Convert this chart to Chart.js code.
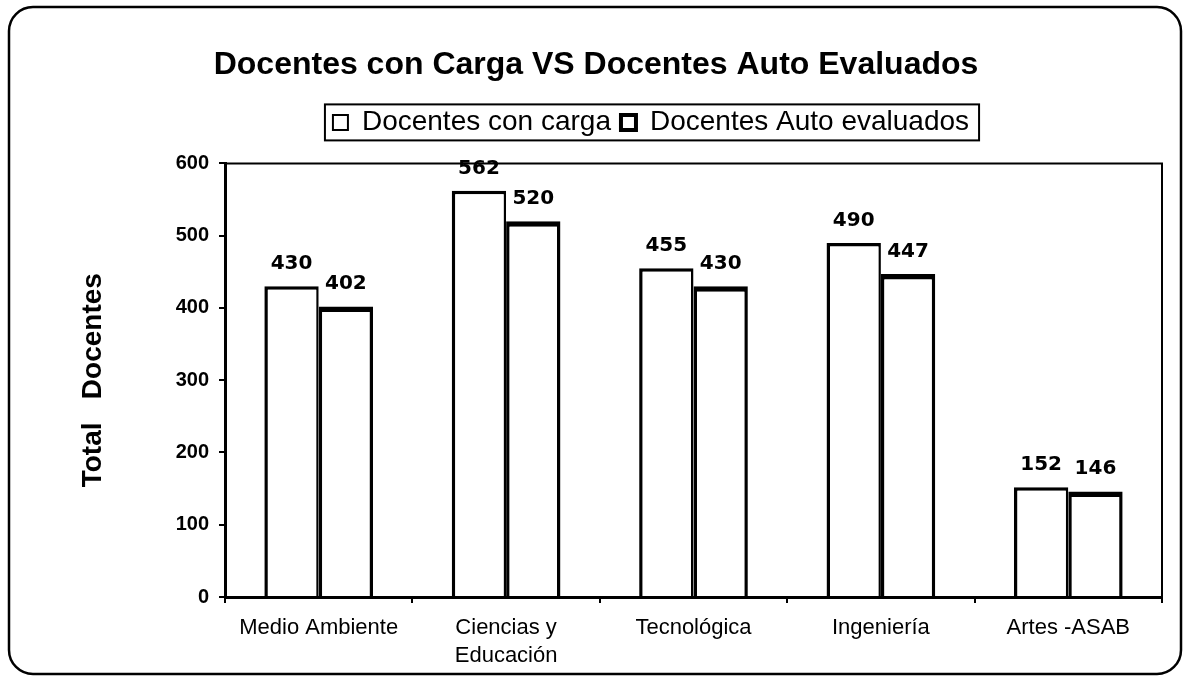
<!DOCTYPE html>
<html>
<head>
<meta charset="utf-8">
<script src="https://cdn.jsdelivr.net/npm/chart.js@4.4.1/dist/chart.umd.min.js"></script>
<style>
  html, body { margin: 0; padding: 0; background: #fff; }
  #wrap { width: 1184px; height: 677px; position: relative; }
</style>
</head>
<body>
<div id="wrap"><canvas id="chart"></canvas></div>
<script>
(function () {
    'use strict';

    // ====== Data ======
    const categories = ['Medio Ambiente', ['Ciencias y', 'Educación'], 'Tecnológica', 'Ingeniería', 'Artes -ASAB'];
    const seriesNames = ['Docentes con carga', 'Docentes Auto evaluados'];
    const conCarga = [430, 562, 455, 490, 152];
    const autoEvaluados = [402, 520, 430, 447, 146];
    const yMin = 0, yMax = 600, yStep = 100;

    const SANS = '"Liberation Sans", Arial, sans-serif';
    const LEGEND_SHIFT = 35;  // legend sits right of centre in the original
    const TITLE_SHIFT = -20;  // title sits a bit left of the plot centre
    Chart.defaults.font.family = SANS;
    Chart.defaults.color = '#000';

    // outer rounded frame + plot frame + legend box
    const framePlugin = {
        id: 'frame',
        beforeDraw(chart) {
            const c = chart.ctx;
            c.save();
            c.fillStyle = '#fff';
            c.fillRect(0, 0, chart.width, chart.height);
            c.strokeStyle = '#000';
            c.lineWidth = 2.5;
            c.beginPath();
            c.roundRect(9, 7, 1172, 667, 24);
            c.stroke();
            c.restore();
        },
        afterDraw(chart) {
            const a = chart.chartArea, c = chart.ctx;
            c.save();
            c.strokeStyle = '#000';
            c.lineWidth = 2;
            c.beginPath();
            c.moveTo(a.left, a.top);
            c.lineTo(a.right, a.top);
            c.lineTo(a.right, a.bottom);
            c.stroke();
            const lg = chart.legend;
            if (lg && lg.legendHitBoxes && lg.legendHitBoxes.length) {
                const hb = lg.legendHitBoxes;
                const l = Math.min(...hb.map(h => h.left)) - 8 + LEGEND_SHIFT;
                const r = Math.max(...hb.map(h => h.left + h.width)) + 10 + LEGEND_SHIFT;
                const t = hb[0].top - 4;
                const b = hb[0].top + hb[0].height + 4;
                c.lineWidth = 2;
                c.strokeRect(l, t, r - l, b - t);
            }
            c.restore();
        }
    };

    // values above bars
    const labelPlugin = {
        id: 'barLabels',
        afterDatasetsDraw(chart) {
            const c = chart.ctx;
            c.save();
            c.font = 'bold 20px "DejaVu Sans", Verdana, sans-serif';
            c.fillStyle = '#000';
            c.textAlign = 'center';
            c.textBaseline = 'alphabetic';
            chart.data.datasets.forEach((ds, i) => {
                chart.getDatasetMeta(i).data.forEach((bar, j) => {
                    c.fillText(String(ds.data[j]), bar.x, bar.y - 17);
                });
            });
            c.restore();
        }
    };

    function shiftDraw(box, dx) {
        const draw = box.draw;
        box.draw = function () {
            this.ctx.save();
            this.ctx.translate(dx, 0);
            draw.apply(this, arguments);
            this.ctx.restore();
        };
    }

    // extra room below the legend, and nudge legend / title sideways
    const boxTweak = {
        id: 'boxTweak',
        beforeLayout(chart) {
            const lg = chart.legend;
            if (lg && !lg._patched) {
                const fit = lg.fit;
                lg.fit = function () { fit.call(this); this.height += 17; };
                shiftDraw(lg, LEGEND_SHIFT);
                lg._patched = true;
            }
            const tt = chart.titleBlock;
            if (tt && !tt._patched) {
                shiftDraw(tt, TITLE_SHIFT);
                tt._patched = true;
            }
        }
    };

    new Chart(document.getElementById('chart'), {
        type: 'bar',
        data: {
            labels: categories,
            datasets: [{
                label: seriesNames[0],
                data: conCarga,
                backgroundColor: '#fff',
                borderColor: '#000',
                borderWidth: { top: 3.5, left: 3.5, right: 2.5, bottom: 0 },
                borderSkipped: false,
                categoryPercentage: 0.58,
                barPercentage: 1.0
            }, {
                label: seriesNames[1],
                data: autoEvaluados,
                backgroundColor: '#fff',
                borderColor: '#000',
                borderWidth: { top: 5.5, left: 3.5, right: 3.5, bottom: 0 },
                borderSkipped: false,
                categoryPercentage: 0.58,
                barPercentage: 1.0
            }]
        },
        options: {
            responsive: true,
            maintainAspectRatio: false,
            animation: false,
            layout: { padding: { left: 70, right: 22, top: 10, bottom: 5 } },
            plugins: {
                title: {
                    display: true,
                    text: 'Docentes con Carga VS Docentes Auto Evaluados',
                    font: { size: 32, weight: 'bold' },
                    color: '#000',
                    padding: { top: 36, bottom: 14 }
                },
                legend: {
                    display: true,
                    labels: {
                        font: { size: 28 },
                        color: '#000',
                        boxWidth: 15,
                        boxHeight: 15,
                        padding: 10,
                        generateLabels: (chart) => chart.data.datasets.map((ds, i) => ({
                            text: ds.label,
                            fillStyle: '#fff',
                            strokeStyle: '#000',
                            lineWidth: i === 0 ? 2 : 4,
                            datasetIndex: i,
                            hidden: false
                        }))
                    }
                },
                tooltip: { enabled: false }
            },
            scales: {
                x: {
                    afterFit: (s) => { s.height = 75; },
                    border: { display: true, color: '#000', width: 3 },
                    grid: { display: true, drawOnChartArea: false, drawTicks: true, tickLength: 6, color: '#000', lineWidth: 2 },
                    ticks: { color: '#000', font: { size: 22, lineHeight: 1.28 }, padding: 11, maxRotation: 0 }
                },
                y: {
                    min: yMin,
                    max: yMax,
                    afterFit: (s) => { s.width = 155; },
                    border: { display: true, color: '#000', width: 3 },
                    grid: { display: true, drawOnChartArea: false, drawTicks: true, tickLength: 6, color: '#000', lineWidth: 2 },
                    ticks: { stepSize: yStep, color: '#000', font: { size: 20, weight: 'bold' }, padding: 10 },
                    title: {
                        display: true,
                        text: 'Total   Docentes',
                        color: '#000',
                        font: { size: 28, weight: 'bold' },
                        padding: { top: 6, bottom: 0 }
                    }
                }
            }
        },
        plugins: [framePlugin, labelPlugin, boxTweak]
    });
})();
</script>
</body>
</html>
